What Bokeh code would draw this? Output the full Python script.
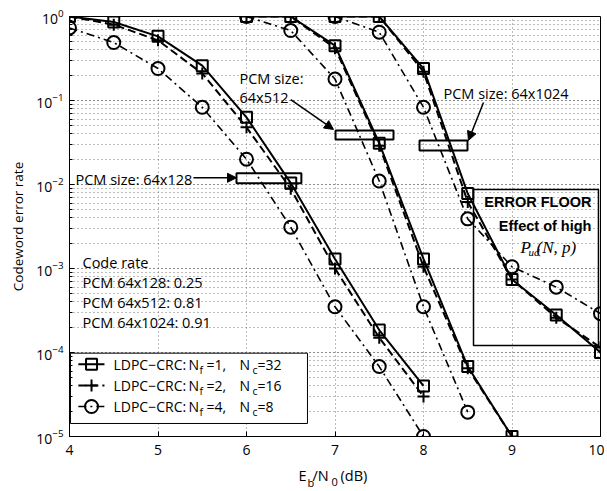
import numpy as np
from bokeh.plotting import figure
from bokeh.layouts import column
from bokeh.models import (FixedTicker, Label, Arrow, NormalHead, BoxAnnotation, Range1d)
from bokeh.embed import file_html
from bokeh.resources import INLINE

# ---------------- data ----------------
ebn0_128 = [4, 4.5, 5, 5.5, 6, 6.5, 7, 7.5, 8]
nf1_128 = [1.0, 0.86, 0.58, 0.26, 0.063, 0.0104, 0.0013, 1.85e-4, 4.0e-5]
nf2_128 = [1.0, 0.80, 0.52, 0.21, 0.048, 0.0089, 0.0010, 1.5e-4, 3.0e-5]
nf4_128 = [0.73, 0.49, 0.24, 0.083, 0.020, 0.0031, 3.5e-4, 6.8e-5, 1.0e-5]

ebn0_512 = [6, 6.5, 7, 7.5, 8, 8.5, 9]
nf1_512 = [1.0, 1.0, 0.45, 0.031, 0.0013, 6.8e-5, 1.0e-5]
nf2_512 = [1.0, 1.0, 0.42, 0.029, 0.00105, 6.5e-5, 1.0e-5]
ebn0_512_c = [6, 6.5, 7, 7.5, 8, 8.5]
nf4_512 = [1.0, 0.68, 0.18, 0.011, 3.5e-4, 1.95e-5]

ebn0_1024 = [7, 7.5, 8, 8.5, 9, 9.5, 10]
nf1_1024 = [1.0, 1.0, 0.24, 0.0078, 7.4e-4, 2.8e-4, 1.0e-4]
nf2_1024 = [1.0, 1.0, 0.22, 0.0062, 7.4e-4, 2.6e-4, 1.15e-4]
nf4_1024 = [1.0, 0.65, 0.083, 0.0039, 0.00105, 6.0e-4, 2.9e-4]

x_ticks = [4, 5, 6, 7, 8, 9, 10]
nf_values = [1, 2, 4]
nc_values = [32, 16, 8]
pcm_sizes = ["64x128", "64x512", "64x1024"]
code_rates = ["0.25", "0.81", "0.91"]

SANS = "Open Sans"

def L(e):
    return 10 ** e

p = figure(width=604, height=462, x_range=Range1d(4, 10), y_range=Range1d(1e-5, 1),
           y_axis_type="log", output_backend="svg", toolbar_location=None,
           min_border_left=69, min_border_right=4, min_border_top=16, min_border_bottom=26,
           background_fill_color="white", border_fill_color="white")

p.outline_line_color = "black"
p.outline_line_width = 1

# grid
p.xgrid.ticker = FixedTicker(ticks=x_ticks)
p.xgrid.grid_line_color = "#7a7a7a"
p.xgrid.grid_line_dash = "1 3"
p.ygrid.grid_line_color = "#7a7a7a"
p.ygrid.grid_line_dash = "1 3"
p.ygrid.minor_grid_line_color = "#7a7a7a"
p.ygrid.minor_grid_line_dash = "1 3"

# axes
p.xaxis.ticker = FixedTicker(ticks=x_ticks)
for ax in (p.xaxis[0], p.yaxis[0]):
    ax.major_tick_in = 5
    ax.major_tick_out = 0
    ax.minor_tick_in = 3
    ax.minor_tick_out = 0
    ax.axis_line_color = "black"
    ax.major_tick_line_color = "black"
    ax.minor_tick_line_color = "black"
    ax.major_label_text_font = SANS
    ax.major_label_text_font_size = "14px"
    ax.major_label_text_color = "black"
p.xaxis.major_label_standoff = 8
p.yaxis.major_label_standoff = 6
p.yaxis.axis_label = "Codeword error rate"
p.yaxis.axis_label_text_font = SANS
p.yaxis.axis_label_text_font_size = "13.5px"
p.yaxis.axis_label_text_font_style = "normal"
p.yaxis.axis_label_text_color = "black"
p.yaxis.axis_label_standoff = 6

# ---------------- series ----------------
styles = {
    1: dict(line_dash="solid", line_width=2),
    2: dict(line_dash="8 4", line_width=2),
    4: dict(line_dash="8 4 2 4", line_width=1.6),
}

def marks(x, y, nf):
    if nf == 1:
        p.scatter(x, y, marker="square", size=11, line_color="black", line_width=2,
                  fill_color=None)
    elif nf == 2:
        p.scatter(x, y, marker="cross", size=12, line_color="black", line_width=2)
    else:
        p.scatter(x, y, marker="circle", size=13, line_color="black", line_width=2,
                  fill_color=None)

def draw(x, y, nf):
    p.line(x, y, line_color="black", **styles[nf])
    marks(x, y, nf)

draw(ebn0_128, nf1_128, 1)
draw(ebn0_128, nf2_128, 2)
draw(ebn0_128, nf4_128, 4)
draw(ebn0_512, nf1_512, 1)
draw(ebn0_512, nf2_512, 2)
draw(ebn0_512_c, nf4_512, 4)
draw(ebn0_1024, nf1_1024, 1)
draw(ebn0_1024, nf2_1024, 2)
draw(ebn0_1024, nf4_1024, 4)

# ---------------- annotations ----------------
def box(l, r, b, t, lw=2):
    p.add_layout(BoxAnnotation(left=l, right=r, bottom=L(b), top=L(t), fill_color=None,
                               fill_alpha=0, line_color="black", line_alpha=1.0,
                               line_width=lw))

def txt(fig, x, y, s, size="14.5px", font=SANS, style="normal", align="left",
        baseline="middle"):
    fig.add_layout(Label(x=x, y=y, text=s, text_font=font, text_font_size=size,
                         text_font_style=style, text_align=align, text_baseline=baseline,
                         text_color="black"))

def arrow(x0, y0, x1, y1):
    p.add_layout(Arrow(x_start=x0, y_start=L(y0), x_end=x1, y_end=L(y1), line_width=1.5,
                       line_color="black",
                       end=NormalHead(size=9, fill_color="black", line_color="black")))

# PCM 64x128
txt(p, 4.068, L(-1.94), "PCM size: " + pcm_sizes[0])
arrow(5.40, -1.92, 5.887, -1.92)
box(5.887, 6.62, -1.984, -1.865)

# PCM 64x512
txt(p, 5.921, L(-0.738), "PCM size:")
txt(p, 5.921, L(-0.964), pcm_sizes[1])
arrow(6.50, -0.99, 6.983, -1.345)
box(7.006, 7.661, -1.464, -1.357)

# PCM 64x1024
txt(p, 8.226, L(-0.917), "PCM size: " + pcm_sizes[2])
arrow(8.678, -1.024, 8.508, -1.476)
box(7.955, 8.497, -1.595, -1.476)

# error floor
box(8.565, 9.977, -3.917, -2.06, lw=1.5)
txt(p, 9.898, L(-2.205), "ERROR FLOOR", size="14.5px", font="Liberation Sans", style="bold",
    align="right")
txt(p, 9.898, L(-2.49), "Effect of high", size="14.5px", font="Liberation Sans",
    style="bold", align="right")
txt(p, 9.096, L(-2.745), "P", size="17px", font="Liberation Serif", style="italic")
txt(p, 9.186, L(-2.80), "ud", size="11px", font="Liberation Serif", style="italic")
txt(p, 9.277, L(-2.745), "(N, p)", size="17px", font="Liberation Serif", style="italic")

# code rate block
txt(p, 4.147, L(-2.925), "Code rate")
for i, (s, r) in enumerate(zip(pcm_sizes, code_rates)):
    txt(p, 4.147, L(-3.163 - 0.238 * i), "PCM " + s + ": " + r)

# legend
p.quad(left=[4.011], right=[6.689], bottom=[L(-4.845)], top=[L(-4.008)],
       fill_color="white", line_color="black", line_width=1)
row_y = [-4.139, -4.393, -4.643]
for nf, nc, ry in zip(nf_values, nc_values, row_y):
    p.line([4.10, 4.395], [L(ry), L(ry)], line_color="black", **styles[nf])
    marks([4.249], [L(ry)], nf)
    txt(p, 4.497, L(ry), "LDPC\u2212CRC:", size="14px")
    txt(p, 5.345, L(ry), "N", size="14px")
    txt(p, 5.469, L(ry - 0.065), "f", size="10.5px")
    txt(p, 5.548, L(ry), "=%d," % nf, size="14px")
    txt(p, 5.921, L(ry), "N", size="14px")
    txt(p, 6.068, L(ry - 0.065), "c", size="10.5px")
    txt(p, 6.124, L(ry), "=%d" % nc, size="14px")

# ---------------- x axis label strip (with subscripts) ----------------
p2 = figure(width=604, height=28, x_range=p.x_range, y_range=Range1d(0, 1),
            output_backend="svg", toolbar_location=None,
            min_border_left=69, min_border_right=4, min_border_top=0, min_border_bottom=0,
            background_fill_color="white", border_fill_color="white")
p2.outline_line_color = None
p2.xaxis.visible = False
p2.yaxis.visible = False
p2.grid.visible = False
txt(p2, 6.588, 0.52, "E", size="14.5px")
txt(p2, 6.689, 0.30, "b", size="11px")
txt(p2, 6.746, 0.52, "/N", size="14.5px")
txt(p2, 6.960, 0.30, "0", size="11px")
txt(p2, 7.062, 0.52, "(dB)", size="14.5px")

layout = column(p, p2, spacing=0)
open("out.html", "w").write(file_html(layout, INLINE))
